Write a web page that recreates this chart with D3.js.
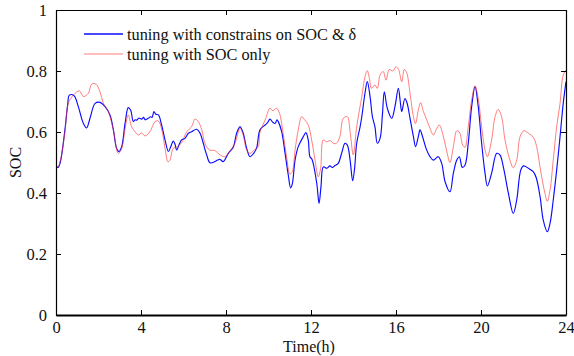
<!DOCTYPE html>
<html>
<head>
<meta charset="utf-8">
<script src="https://cdn.jsdelivr.net/npm/d3@7/dist/d3.min.js"></script>
<style>
  html, body { margin: 0; padding: 0; background: #fff; }
  svg { display: block; }
  text { font-family: "Liberation Serif", "Times New Roman", serif; fill: #111; }
</style>
</head>
<body>
<svg id="chart" width="574" height="356"></svg>
<script>
// State of charge over a day for two tuning strategies
const hoursConstrained = [
  0.00, 0.10, 0.20, 0.42, 0.55, 0.63, 0.85, 1.05, 1.29, 1.44, 1.60, 1.84, 2.07, 2.31, 2.54, 2.70,
  2.85, 2.96, 3.09, 3.25, 3.40, 3.51, 3.64, 3.72, 3.80, 3.90, 4.03, 4.12, 4.20, 4.34, 4.45, 4.52,
  4.61, 4.70, 4.82, 4.97, 5.13, 5.29, 5.40, 5.52, 5.60, 5.68, 5.80, 5.91, 6.07, 6.23, 6.38, 6.62,
  6.78, 6.93, 7.09, 7.25, 7.48, 7.60, 7.72, 7.87, 8.11, 8.34, 8.50, 8.66, 8.81, 8.97, 9.13, 9.30,
  9.44, 9.60, 9.84, 9.95, 10.07, 10.20, 10.31, 10.40, 10.46, 10.62, 10.78, 10.93, 11.04, 11.12,
  11.25, 11.40, 11.64, 11.76, 11.87, 11.95, 12.05, 12.27, 12.38, 12.47, 12.58, 12.74, 12.89, 13.00,
  13.13, 13.28, 13.44, 13.60, 13.71, 13.84, 13.96, 14.05, 14.15, 14.31, 14.39, 14.54, 14.65, 14.78,
  14.89, 15.01, 15.12, 15.25, 15.36, 15.45, 15.59, 15.80, 15.95, 16.11, 16.20, 16.27, 16.42, 16.52,
  16.66, 16.82, 16.92, 17.05, 17.13, 17.25, 17.41, 17.60, 17.76, 17.99, 18.15, 18.31, 18.54, 18.70,
  18.86, 18.98, 19.12, 19.25, 19.40, 19.56, 19.72, 19.87, 20.03, 20.19, 20.30, 20.50, 20.74, 20.89,
  21.05, 21.29, 21.52, 21.68, 21.87, 22.00, 22.23, 22.46, 22.60, 22.78, 22.93, 23.12, 23.25, 23.40,
  23.56, 23.72, 23.87, 24.00
];
const socConstrained = [
  0.489, 0.484, 0.500, 0.607, 0.690, 0.721, 0.719, 0.683, 0.628, 0.613, 0.645, 0.694, 0.697, 0.683, 0.656, 0.607,
  0.547, 0.536, 0.552, 0.628, 0.680, 0.672, 0.634, 0.640, 0.639, 0.646, 0.642, 0.648, 0.640, 0.645, 0.650, 0.648,
  0.667, 0.658, 0.656, 0.623, 0.574, 0.536, 0.552, 0.570, 0.560, 0.541, 0.560, 0.574, 0.579, 0.596, 0.601, 0.609,
  0.596, 0.563, 0.525, 0.499, 0.503, 0.508, 0.510, 0.503, 0.530, 0.550, 0.596, 0.617, 0.596, 0.547, 0.519, 0.530,
  0.547, 0.607, 0.623, 0.630, 0.642, 0.632, 0.628, 0.640, 0.634, 0.601, 0.530, 0.459, 0.417, 0.430,
  0.508, 0.552, 0.585, 0.598, 0.574, 0.519, 0.510, 0.432, 0.366, 0.421, 0.486, 0.481, 0.489, 0.484,
  0.490, 0.497, 0.530, 0.563, 0.557, 0.508, 0.440, 0.480, 0.563, 0.617, 0.650, 0.727, 0.765, 0.716,
  0.650, 0.617, 0.563, 0.579, 0.656, 0.732, 0.678, 0.645, 0.683, 0.743, 0.700, 0.667, 0.710, 0.695,
  0.645, 0.585, 0.552, 0.585, 0.607, 0.585, 0.547, 0.519, 0.508, 0.519, 0.497, 0.437, 0.404, 0.465,
  0.508, 0.519, 0.484, 0.492, 0.563, 0.683, 0.749, 0.683, 0.563, 0.465, 0.423, 0.465, 0.530, 0.525,
  0.486, 0.399, 0.333, 0.377, 0.475, 0.489, 0.481, 0.470, 0.450, 0.388, 0.311, 0.273, 0.301, 0.377,
  0.475, 0.585, 0.694, 0.765
];

const hoursSocOnly = [
  0.00, 0.10, 0.20, 0.42, 0.58, 0.82, 1.10, 1.29, 1.52, 1.68, 1.88, 2.07, 2.23, 2.46, 2.70, 2.93,
  3.09, 3.25, 3.40, 3.56, 3.72, 3.87, 4.03, 4.19, 4.42, 4.66, 4.82, 4.97, 5.13, 5.27, 5.36, 5.52,
  5.68, 5.91, 6.15, 6.38, 6.54, 6.70, 6.86, 7.01, 7.22, 7.48, 7.72, 7.95, 8.15, 8.42, 8.66, 8.81,
  8.97, 9.13, 9.36, 9.52, 9.60, 9.84, 10.07, 10.20, 10.38, 10.52, 10.70, 10.85, 11.01, 11.12, 11.25,
  11.40, 11.56, 11.70, 11.87, 12.03, 12.19, 12.34, 12.45, 12.58, 12.74, 12.90, 13.05, 13.20, 13.36,
  13.52, 13.71, 13.84, 13.99, 14.15, 14.39, 14.54, 14.65, 14.75, 14.85, 15.01, 15.12, 15.25, 15.40,
  15.53, 15.68, 15.85, 16.00, 16.12, 16.27, 16.39, 16.50, 16.66, 16.82, 16.92, 17.05, 17.16, 17.29,
  17.45, 17.60, 17.76, 17.92, 18.04, 18.23, 18.39, 18.54, 18.70, 18.86, 18.98, 19.14, 19.25, 19.40,
  19.56, 19.72, 19.87, 20.03, 20.19, 20.30, 20.50, 20.66, 20.81, 20.97, 21.13, 21.36, 21.52, 21.68,
  21.84, 22.02, 22.23, 22.46, 22.62, 22.80, 23.01, 23.12, 23.25, 23.40, 23.56, 23.72, 23.87, 24.00
];
const socOnly = [
  0.489, 0.486, 0.505, 0.600, 0.694, 0.721, 0.735, 0.716, 0.727, 0.757, 0.757, 0.732, 0.694, 0.667, 0.607, 0.530,
  0.545, 0.610, 0.656, 0.617, 0.601, 0.590, 0.597, 0.587, 0.601, 0.634, 0.636, 0.610, 0.547, 0.502, 0.508, 0.547,
  0.550, 0.565, 0.601, 0.617, 0.642, 0.634, 0.607, 0.563, 0.541, 0.539, 0.525, 0.519, 0.535, 0.563, 0.612, 0.590,
  0.541, 0.530, 0.543, 0.552, 0.600, 0.639, 0.678, 0.670, 0.678, 0.661, 0.590, 0.519, 0.462, 0.470, 0.541,
  0.607, 0.650, 0.640, 0.623, 0.574, 0.508, 0.453, 0.480, 0.574, 0.568, 0.572, 0.563, 0.563, 0.585,
  0.645, 0.650, 0.601, 0.525, 0.617, 0.716, 0.781, 0.801, 0.775, 0.743, 0.754, 0.743, 0.787, 0.798,
  0.770, 0.805, 0.800, 0.814, 0.805, 0.765, 0.805, 0.795, 0.727, 0.650, 0.628, 0.672, 0.696, 0.667,
  0.639, 0.612, 0.590, 0.612, 0.623, 0.585, 0.536, 0.500, 0.552, 0.604, 0.600, 0.557, 0.550, 0.617,
  0.705, 0.751, 0.710, 0.617, 0.541, 0.519, 0.574, 0.650, 0.674, 0.650, 0.574, 0.508, 0.483, 0.508,
  0.585, 0.604, 0.596, 0.583, 0.552, 0.475, 0.399, 0.373, 0.410, 0.508, 0.617, 0.694, 0.787, 0.803
];

const xTicks = [0, 4, 8, 12, 16, 20, 24];
const yTicks = [0, 0.2, 0.4, 0.6, 0.8, 1];
const yTickLabels = ["0", "0.2", "0.4", "0.6", "0.8", "1"];
const seriesNames = ["tuning with constrains on SOC & \u03b4", "tuning with SOC only"];

const W = 574, H = 356;
const margin = { left: 56, right: 8, top: 10, bottom: 41 };
const svg = d3.select("#chart");

const x = d3.scaleLinear().domain([0, 24]).range([margin.left, W - margin.right]);
const y = d3.scaleLinear().domain([0, 1]).range([H - margin.bottom, margin.top]);

const x0 = x.range()[0], x1 = x.range()[1];
const y0 = y.range()[0], y1 = y.range()[1];

// plot lines, clipped to the axes box
svg.append("clipPath").attr("id", "plotclip")
  .append("rect").attr("x", x0).attr("y", y1).attr("width", x1 - x0).attr("height", y0 - y1);

const line = d3.line()
  .x(d => x(d[0]))
  .y(d => y(d[1]))
  .curve(d3.curveCatmullRom.alpha(0.5));

const plot = svg.append("g").attr("clip-path", "url(#plotclip)");

plot.append("path")
  .datum(hoursConstrained.map((h, i) => [h, socConstrained[i]]))
  .attr("d", line)
  .attr("fill", "none")
  .attr("stroke", "#0a0aff")
  .attr("stroke-width", 1.15)
  .attr("stroke-linejoin", "round");

plot.append("path")
  .datum(hoursSocOnly.map((h, i) => [h, socOnly[i]]))
  .attr("d", line)
  .attr("fill", "none")
  .attr("stroke", "#ff2a2a")
  .attr("stroke-opacity", 0.6)
  .attr("stroke-width", 1)
  .attr("stroke-linejoin", "round");

// axes: ticks pointing inward on all four sides
const tickLen = 5;
const axisBottomG = svg.append("g").attr("transform", `translate(0,${y0})`)
  .call(d3.axisBottom(x).tickValues(xTicks).tickSizeInner(-tickLen).tickSizeOuter(0).tickPadding(6));
const axisTopG = svg.append("g").attr("transform", `translate(0,${y1})`)
  .call(d3.axisTop(x).tickValues(xTicks).tickSizeInner(-tickLen).tickSizeOuter(0).tickFormat(""));
const axisLeftG = svg.append("g").attr("transform", `translate(${x0},0)`)
  .call(d3.axisLeft(y).tickValues(yTicks).tickSizeInner(-tickLen).tickSizeOuter(0).tickPadding(9)
    .tickFormat((d, i) => yTickLabels[i]));
const axisRightG = svg.append("g").attr("transform", `translate(${x1},0)`)
  .call(d3.axisRight(y).tickValues(yTicks).tickSizeInner(-tickLen).tickSizeOuter(0).tickFormat(""));

[axisBottomG, axisTopG, axisLeftG, axisRightG].forEach(g => {
  g.select(".domain").attr("stroke", "#000").attr("stroke-width", 1.2);
  g.selectAll(".tick line").attr("stroke", "#000").attr("stroke-width", 1);
  g.selectAll("text").attr("font-size", 16.5).attr("fill", "#111")
    .style("font-family", '"Liberation Serif", serif');
});
axisBottomG.select(".domain").attr("stroke-width", 1.8);

// axis titles
svg.append("text")
  .attr("x", (x0 + x1) / 2 - 2).attr("y", 351.5)
  .attr("text-anchor", "middle").attr("font-size", 16)
  .text("Time(h)");

svg.append("text")
  .attr("transform", `translate(21,${(y0 + y1) / 2}) rotate(-90)`)
  .attr("text-anchor", "middle").attr("font-size", 16)
  .text("SOC");

// legend
const legend = svg.append("g");
const legendColors = ["#0a0aff", "#ff2a2a"];
const legendWidths = [1.3, 1];
const legendOpacity = [1, 0.6];
seriesNames.forEach((name, i) => {
  const ly = 34 + i * 20;
  legend.append("line")
    .attr("x1", 84).attr("x2", 123).attr("y1", ly).attr("y2", ly)
    .attr("stroke", legendColors[i]).attr("stroke-width", legendWidths[i])
    .attr("stroke-opacity", legendOpacity[i]);
  legend.append("text")
    .attr("x", 127).attr("y", ly + 6)
    .attr("font-size", 16.3)
    .text(name);
});
</script>
</body>
</html>
